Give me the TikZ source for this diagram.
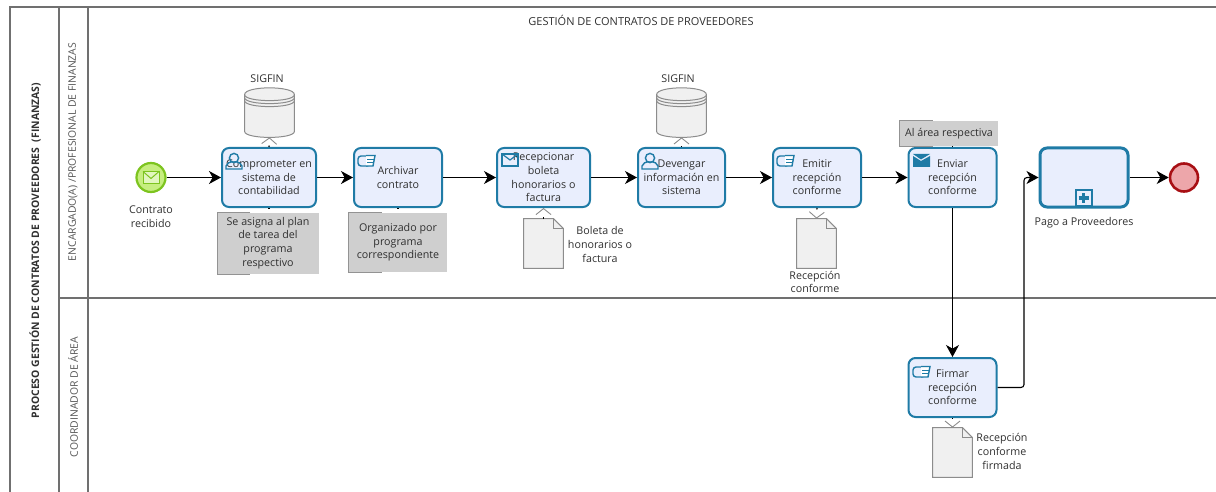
\documentclass[tikz,border=0pt]{standalone}
\usepackage{fontspec}
\setmainfont{Open Sans}
\usepackage{tikz}
\usetikzlibrary{calc,arrows.meta}
\definecolor{taskline}{HTML}{1F7BA6}
\definecolor{taskfill}{HTML}{E9EEFD}
\definecolor{poolline}{HTML}{707070}
\definecolor{txtcol}{HTML}{303030}
\definecolor{lanetxt}{HTML}{555555}
\definecolor{startline}{HTML}{7DC41F}
\definecolor{startfill}{HTML}{C6EE7F}
\definecolor{endline}{HTML}{A80F14}
\definecolor{endfill}{HTML}{EDA6AA}
\newcommand{\dbsym}[1]{
  \draw[store] ($(#1.north west)+(0,7)$) .. controls +(0,-9) and +(0,-9) .. ($(#1.north east)+(0,7)$) -- ($(#1.south east)+(0,-6)$) .. controls +(0,8) and +(0,8) .. ($(#1.south west)+(0,-6)$) -- cycle;
  \foreach \dy in {7,10,13}
    \draw[store,fill=none] ($(#1.north west)+(0,\dy)$) .. controls +(0,8) and +(0,8) .. ($(#1.north east)+(0,\dy)$);
}
\newcommand{\docsym}[1]{
  \draw[store] (#1.north west) -- ($(#1.north east)+(-10,0)$) -- ($(#1.north east)+(0,10)$) -- (#1.south east) -- (#1.south west) -- cycle;
  \draw[store,fill=none] ($(#1.north east)+(-10,0)$) -- ($(#1.north east)+(-10,10)$) -- ($(#1.north east)+(0,10)$);
}
\newcommand{\notemark}[1]{
  \draw[draw=gray!85] ($(#1.north west)+(33,0)$) -- (#1.north west) -- (#1.south west) -- ($(#1.south west)+(33,0)$);
}
\tikzset{
  scripticon/.pic={
    \draw[taskline,line width=.7pt,fill=taskfill,rounded corners=1.5pt] (0,1) rectangle (12,11);
    \draw[taskline,line width=.7pt,fill=white] (8,0.5) -- (17,0.5) -- (15,11) -- (8,11);
    \draw[taskline,line width=.4pt] (9,4) -- (16,4) (9,7.5) -- (15,7.5);
  },
  usericon/.pic={
    \draw[taskline,line width=.7pt] (8,5) circle (2.3pt);
    \draw[taskline,line width=.7pt] (0,16) -- (0,13) .. controls (1,10) and (4,9) .. (5,9) -- (11,9) .. controls (12,9) and (15,10) .. (16,13) -- (16,16) -- cycle;
  },
  mailicon/.pic={
    \draw[taskline,line width=.6pt] (0,0) rectangle (16,12);
    \draw[taskline,line width=.6pt] (0,0) -- (8,6) -- (16,0);
  },
  mailfilled/.pic={
    \fill[taskline] (0,2) -- (8,7) -- (17,2) -- (17,13) -- (0,13) -- cycle;
    \fill[taskline] (0,0) -- (17,0) -- (8,5.5) -- cycle;
  }
}
\begin{document}
\begin{tikzpicture}[x=0.5pt,y=-0.5pt]
  \tikzstyle{lbl}=[align=center,text=txtcol,inner sep=0pt,font=\fontsize{5.35}{6.8}\selectfont]
  \tikzstyle{lanelbl}=[lbl,rotate=90,font=\fontsize{5.2}{6.8}\selectfont]
  \tikzstyle{task}=[rectangle,rounded corners=3.5pt,draw=taskline,fill=taskfill,line width=1pt,align=center,text=txtcol,inner sep=0pt,minimum height=29.5pt,font=\fontsize{5.35}{6.8}\selectfont]
  \tikzstyle{note}=[rectangle,fill=black!19,align=center,text=txtcol,inner sep=0pt,font=\fontsize{5.35}{6.8}\selectfont]
  \tikzstyle{store}=[draw=gray!90,fill=black!6,line width=.5pt]
  \tikzstyle{symbox}=[rectangle,inner sep=0pt]
  \tikzstyle{flow}=[draw=black,line width=.55pt,-{Stealth[length=6pt,width=6.5pt,inset=1.8pt]}]
  \tikzstyle{assoc}=[draw=black,line width=.7pt,dash pattern=on .7pt off 8pt,-{Straight Barb[length=3pt,width=7.5pt,color=gray!90,line width=.45pt]}]
  \tikzstyle{noteline}=[draw=black,line width=.7pt,dash pattern=on .7pt off 8pt]
  \useasboundingbox (0,0) rectangle (1216,492);
  % pool and lanes
  \coordinate (tl) at (10,7);
  \coordinate (tr) at (1216,7);
  \coordinate (bl) at (10,492);
  \coordinate (ll) at (59,298);
  \coordinate (lr) at (1216,298);
  \draw[poolline,line width=.7pt] (bl) -- (tl) -- (tr);
  \draw[poolline,line width=.7pt] (59,7) -- (59,492);
  \draw[poolline,line width=.7pt] (88,7) -- (88,492);
  \draw[poolline,line width=.9pt] (ll) -- (lr);
  \node[lanelbl] (pool) at (35,250.5) {\textbf{PROCESO GESTIÓN DE CONTRATOS DE PROVEEDORES\ \ (FINANZAS)}};
  \node[lanelbl,text=lanetxt] (lane1) at (73,152) {ENCARGADO(A) /PROFESIONAL DE FINANZAS};
  \node[lanelbl,text=lanetxt] (lane2) at (73,397) {COORDINADOR DE ÁREA};
  \node[lbl,font=\fontsize{5.5}{6.8}\selectfont] (title) at (641,20) {GESTIÓN DE CONTRATOS DE PROVEEDORES};
  % events
  \node[circle,draw=startline,fill=startfill,line width=1.1pt,minimum size=14.5pt,inner sep=0pt] (start) at (151,177.5) {};
  \node[circle,draw=endline,fill=endfill,line width=1.3pt,minimum size=14pt,inner sep=0pt] (end) at (1184,177.5) {};
  \draw[startline,fill=startfill!50!white,line width=.5pt] (143,171.5) rectangle (159,183.5);
  \draw[startline,line width=.5pt] (143,171.5) -- (151,178.5) -- (159,171.5);
  % tasks
  \node[task,minimum width=47pt] (t1) at (269,177.5) {Comprometer en\\sistema de\\contabilidad};
  \node[task,minimum width=44pt] (t2) at (398,177.5) {Archivar\\contrato};
  \node[task,minimum width=46.5pt] (t3) at (543.5,177.5) {Recepcionar\\boleta\\honorarios o\\factura};
  \node[task,minimum width=43.5pt] (t4) at (681.5,177.5) {Devengar\\información en\\sistema};
  \node[task,minimum width=44pt] (t5) at (817,177.5) {Emitir\\recepción\\conforme};
  \node[task,minimum width=44pt] (t6) at (952.5,177.5) {Enviar\\recepción\\conforme};
  \node[task,minimum width=44pt,line width=1.5pt] (sub) at (1084,177.5) {};
  \node[task,minimum width=44pt] (t7) at (952.5,387.5) {Firmar\\recepción\\conforme};
  % task markers
  \pic at (226,153) {usericon};
  \pic at (358,155) {scripticon};
  \pic at (502,154) {mailicon};
  \pic at (642,153) {usericon};
  \pic at (777,155) {scripticon};
  \pic at (913,154) {mailfilled};
  \pic at (913,366) {scripticon};
  \node[rectangle,draw=taskline,fill=taskfill,line width=1pt,minimum size=8pt,inner sep=0pt] (plus) at (1083.5,198) {};
  \draw[taskline,line width=1.7pt] (1078.5,198) -- (1088.5,198) (1083.5,193) -- (1083.5,203);
  % data stores and documents
  \node[symbox,minimum width=24.5pt,minimum height=24.5pt] (db1) at (269.5,112.5) {};
  \node[symbox,minimum width=24.5pt,minimum height=24.5pt] (db2) at (681.5,112.5) {};
  \dbsym{db1}
  \dbsym{db2}
  \node[symbox,minimum width=19.5pt,minimum height=24.5pt] (d3) at (543.5,243.5) {};
  \node[symbox,minimum width=19.5pt,minimum height=24.5pt] (d5) at (816.5,243.5) {};
  \node[symbox,minimum width=19.5pt,minimum height=24.5pt] (d7) at (952.5,452.5) {};
  \docsym{d3}
  \docsym{d5}
  \docsym{d7}
  % annotations
  \node[note,minimum width=50.5pt,minimum height=30.5pt] (n1) at (268,243) {Se asigna al plan\\de tarea del\\programa\\respectivo};
  \node[note,minimum width=49pt,minimum height=29.5pt] (n2) at (398,242.5) {Organizado por\\programa\\correspondiente};
  \node[note,minimum width=49pt,minimum height=12.5pt] (n6) at (949,133.5) {Al área respectiva};
  \notemark{n1}
  \notemark{n2}
  \notemark{n6}
  % labels
  \node[lbl] (l1) at (151,216.5) {Contrato\\recibido};
  \node[lbl] (l2) at (267,79) {SIGFIN};
  \node[lbl] (l3) at (678,79) {SIGFIN};
  \node[lbl] (l4) at (600,244.5) {Boleta de\\honorarios o\\factura};
  \node[lbl] (l5) at (815,282) {Recepción\\conforme};
  \node[lbl] (l6) at (1084,223) {Pago a Proveedores};
  \node[lbl] (l7) at (1002,451.5) {Recepción\\conforme\\firmada};
  % sequence flows
  \draw[flow] (start) -- (t1);
  \draw[flow] (t1) -- (t2);
  \draw[flow] (t2) -- (t3);
  \draw[flow] (t3) -- (t4);
  \draw[flow] (t4) -- (t5);
  \draw[flow] (t5) -- (t6);
  \draw[flow] (t6) -- (t7);
  \draw[flow] (sub) -- (end);
  \coordinate (j1) at (1024,300);
  \draw[flow,rounded corners=1.5pt] (t7.east) -| (j1) |- (sub.west);
  % associations
  \draw[assoc] (t1.north) -- (db1.south);
  \draw[assoc] (t4.north) -- (db2.south);
  \draw[assoc] (d3.north) -- (t3.south);
  \draw[assoc] (t5.south) -- (d5.north);
  \draw[assoc] (t7.south) -- (d7.north);
  \draw[noteline] (t1.south) -- (n1.north -| t1.south);
  \draw[noteline] (t2.south) -- (n2.north);
  \draw[noteline] (t6.north) -- (n6.south -| t6.north);
\end{tikzpicture}
\end{document}
